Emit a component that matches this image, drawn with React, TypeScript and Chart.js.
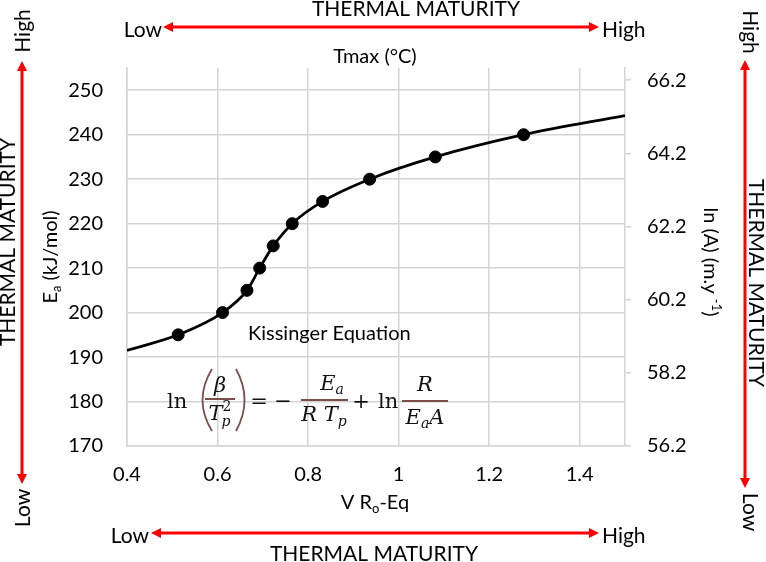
import React, { useEffect, useRef } from "react";
import { Chart, registerables } from "chart.js";

Chart.register(...registerables);

// ---- data ----
const roEq = [0.513, 0.611, 0.665, 0.693, 0.723, 0.765, 0.832, 0.936, 1.081, 1.276];
const eaValues = [195, 200, 205, 210, 215, 220, 225, 230, 235, 240];
// smoothed curve extends beyond the measured points to the plot edges
const curveStart = [0.4, 191.5];
const curveEnd = [1.5, 244.3];

const xTicks = [0.4, 0.6, 0.8, 1.0, 1.2, 1.4];
const xTickLabels = ["0.4", "0.6", "0.8", "1", "1.2", "1.4"];
const eaTicks = [170, 180, 190, 200, 210, 220, 230, 240, 250];
const lnATicks = [56.2, 58.2, 60.2, 62.2, 64.2, 66.2];
const lnATickLabels = ["56.2", "58.2", "60.2", "62.2", "64.2", "66.2"];

const GRID = "#d4d4d4";
const RED = "#ff0000";
const EQC = "#7d4d49";
const SANS = "Lato";
const SERIF = "DejaVu Serif";
const INK = "#000";

function txt(ctx: CanvasRenderingContext2D, s: string, x: number, y: number, font: string, align: CanvasTextAlign = "left", color = INK) {
  ctx.font = font;
  ctx.fillStyle = color;
  ctx.textAlign = align;
  ctx.textBaseline = "alphabetic";
  ctx.fillText(s, x, y);
}

function rotTxt(ctx: CanvasRenderingContext2D, s: string, x: number, y: number, angle: number, font: string, color = INK) {
  ctx.save();
  ctx.translate(x, y);
  ctx.rotate(angle);
  ctx.font = font;
  ctx.fillStyle = color;
  ctx.textAlign = "center";
  ctx.textBaseline = "middle";
  ctx.fillText(s, 0, 0);
  ctx.restore();
}

// rich text pieces: [text, size, dy, italic]
type Piece = [string, number, number, boolean?];
function richWidth(ctx: CanvasRenderingContext2D, pieces: Piece[], fam: string) {
  let w = 0;
  for (const [s, sz, , it] of pieces) {
    ctx.font = `${it ? "italic " : ""}${sz}px ${fam}`;
    w += ctx.measureText(s).width;
  }
  return w;
}
function richDraw(ctx: CanvasRenderingContext2D, pieces: Piece[], fam: string, x: number, y: number, align: "left" | "center", color = INK) {
  let cx = align === "center" ? x - richWidth(ctx, pieces, fam) / 2 : x;
  ctx.fillStyle = color;
  ctx.textAlign = "left";
  ctx.textBaseline = "alphabetic";
  for (const [s, sz, dy, it] of pieces) {
    ctx.font = `${it ? "italic " : ""}${sz}px ${fam}`;
    ctx.fillText(s, cx, y + dy);
    cx += ctx.measureText(s).width;
  }
}

function hArrow(ctx: CanvasRenderingContext2D, x1: number, x2: number, y: number) {
  ctx.strokeStyle = RED;
  ctx.fillStyle = RED;
  ctx.lineWidth = 3;
  ctx.beginPath();
  ctx.moveTo(x1 + 8, y);
  ctx.lineTo(x2 - 8, y);
  ctx.stroke();
  ctx.beginPath();
  ctx.moveTo(x1, y); ctx.lineTo(x1 + 10, y - 5); ctx.lineTo(x1 + 10, y + 5); ctx.closePath();
  ctx.fill();
  ctx.beginPath();
  ctx.moveTo(x2, y); ctx.lineTo(x2 - 10, y - 5); ctx.lineTo(x2 - 10, y + 5); ctx.closePath();
  ctx.fill();
}
function vArrow(ctx: CanvasRenderingContext2D, x: number, y1: number, y2: number) {
  ctx.strokeStyle = RED;
  ctx.fillStyle = RED;
  ctx.lineWidth = 3;
  ctx.beginPath();
  ctx.moveTo(x, y1 + 8);
  ctx.lineTo(x, y2 - 8);
  ctx.stroke();
  ctx.beginPath();
  ctx.moveTo(x, y1); ctx.lineTo(x - 5, y1 + 10); ctx.lineTo(x + 5, y1 + 10); ctx.closePath();
  ctx.fill();
  ctx.beginPath();
  ctx.moveTo(x, y2); ctx.lineTo(x - 5, y2 - 10); ctx.lineTo(x + 5, y2 - 10); ctx.closePath();
  ctx.fill();
}

function paren(ctx: CanvasRenderingContext2D, xTip: number, xMid: number, yTop: number, yBot: number) {
  ctx.strokeStyle = EQC;
  ctx.lineWidth = 1.8;
  ctx.beginPath();
  ctx.moveTo(xTip, yTop);
  ctx.quadraticCurveTo(xMid - (xTip - xMid) * 0.9, (yTop + yBot) / 2, xTip, yBot);
  ctx.stroke();
}
function fracLine(ctx: CanvasRenderingContext2D, x1: number, x2: number, y: number) {
  ctx.strokeStyle = EQC;
  ctx.lineWidth = 2;
  ctx.beginPath();
  ctx.moveTo(x1, y);
  ctx.lineTo(x2, y);
  ctx.stroke();
}

const annotPlugin = {
  id: "annot",
  afterDraw(chart: any) {
    const ctx: CanvasRenderingContext2D = chart.ctx;
    ctx.save();
    const F = `21px ${SANS}`;
    // top
    txt(ctx, "THERMAL MATURITY", 416, 16, F, "center");
    txt(ctx, "Low", 162, 37, F, "right");
    txt(ctx, "High", 602, 37, F, "left");
    hArrow(ctx, 163, 599, 27);
    txt(ctx, "Tmax (°C)", 375, 63, `20px ${SANS}`, "center");
    // bottom
    richDraw(ctx, [["V R", 20, 0], ["o", 13, 4], ["-Eq", 20, 0]], SANS, 375, 509, "center");
    txt(ctx, "Low", 149, 543, F, "right");
    txt(ctx, "High", 602, 543, F, "left");
    hArrow(ctx, 151, 599, 533);
    txt(ctx, "THERMAL MATURITY", 374, 561, F, "center");
    // left column
    rotTxt(ctx, "High", 23, 31, -Math.PI / 2, F);
    rotTxt(ctx, "Low", 23, 508, -Math.PI / 2, F);
    vArrow(ctx, 22, 61, 484);
    rotTxt(ctx, "THERMAL MATURITY", 8, 242, -Math.PI / 2, F);
    // right column
    rotTxt(ctx, "High", 750, 32, Math.PI / 2, F);
    rotTxt(ctx, "Low", 750, 512, Math.PI / 2, F);
    vArrow(ctx, 745, 60, 488);
    rotTxt(ctx, "THERMAL MATURITY", 756, 283, Math.PI / 2, F);
    // axis titles
    ctx.save();
    ctx.translate(57, 257);
    ctx.rotate(-Math.PI / 2);
    richDraw(ctx, [["E", 20, 0], ["a", 13, 4], [" (kJ/mol)", 20, 0]], SANS, 0, 0, "center");
    ctx.restore();
    ctx.save();
    ctx.translate(704, 262);
    ctx.rotate(Math.PI / 2);
    richDraw(ctx, [["ln (A) (m.y ", 20, 0], ["-1", 13, -8], [")", 20, 0]], SANS, 0, 0, "center");
    ctx.restore();

    // Kissinger equation
    txt(ctx, "Kissinger Equation", 248, 340, `20px ${SANS}`, "left");
    const S = 21;
    const s = 14;
    const bc = "#111";
    txt(ctx, "ln", 167, 408, `${S}px ${SERIF}`, "left", bc);
    paren(ctx, 212, 202, 369, 431);
    paren(ctx, 236, 245, 369, 431);
    richDraw(ctx, [["β", S, 0, true]], SERIF, 220, 392, "center", bc);
    fracLine(ctx, 205, 235, 399);
    // T_p^2
    ctx.font = `italic ${S}px ${SERIF}`;
    const tW = ctx.measureText("T").width;
    ctx.font = `italic ${s}px ${SERIF}`;
    const pW = ctx.measureText("p").width;
    const tx = 220 - (tW + pW) / 2;
    txt(ctx, "T", tx, 420, `italic ${S}px ${SERIF}`, "left", bc);
    txt(ctx, "p", tx + tW - 1, 426, `italic ${s}px ${SERIF}`, "left", bc);
    txt(ctx, "2", tx + tW, 411, `${s}px ${SERIF}`, "left", bc);
    txt(ctx, "=", 259, 408, `${S}px ${SERIF}`, "center", bc);
    txt(ctx, "−", 283, 408, `${S}px ${SERIF}`, "center", bc);
    fracLine(ctx, 301, 348, 400);
    richDraw(ctx, [["E", S, 0, true], ["a", s, 4, true]], SERIF, 332, 390, "center", bc);
    richDraw(ctx, [["R T", S, 0, true], ["p", s, 5, true]], SERIF, 324, 421, "center", bc);
    txt(ctx, "+", 361, 408, `${S}px ${SERIF}`, "center", bc);
    txt(ctx, "ln", 378, 408, `${S}px ${SERIF}`, "left", bc);
    fracLine(ctx, 402, 448, 401);
    richDraw(ctx, [["R", S, 0, true]], SERIF, 425, 391, "center", bc);
    richDraw(ctx, [["E", S, 0, true], ["a", s, 4, true], ["A", S, 0, true]], SERIF, 425, 424, "center", bc);
    ctx.restore();
  },
};

export default function App() {
  const ref = useRef<HTMLCanvasElement>(null);
  useEffect(() => {
    const canvas = ref.current;
    if (!canvas) return;
    const curveX = [curveStart[0], ...roEq, curveEnd[0]];
    const curveY = [curveStart[1], ...eaValues, curveEnd[1]];
    const tickFont = { family: SANS, size: 20 };
    const chart = new Chart(canvas, {
      type: "scatter",
      data: {
        datasets: [
          {
            type: "line",
            data: curveX.map((x, i) => ({ x, y: curveY[i] })),
            borderColor: "#000",
            borderWidth: 2.75,
            pointRadius: 0,
            cubicInterpolationMode: "monotone",
            fill: false,
            yAxisID: "y",
            order: 2,
          } as any,
          {
            type: "scatter",
            data: roEq.map((x, i) => ({ x, y: eaValues[i] })),
            backgroundColor: "#000",
            borderColor: "#000",
            pointRadius: 6,
            yAxisID: "y",
            order: 1,
          } as any,
        ],
      },
      options: {
        responsive: false,
        animation: false,
        devicePixelRatio: 1,
        layout: { padding: { top: 68, left: 0, right: 0, bottom: 0 } },
        plugins: { legend: { display: false }, tooltip: { enabled: false } },
        scales: {
          x: {
            type: "linear",
            position: "bottom",
            min: 0.4,
            max: 1.5,
            afterBuildTicks: (s: any) => { s.ticks = xTicks.map((v) => ({ value: v })); },
            afterFit: (s: any) => { s.height = 116; },
            grid: { color: GRID, lineWidth: 1.5, drawTicks: false },
            border: { color: GRID, width: 1.5 },
            ticks: { padding: 17, font: tickFont, color: INK, maxRotation: 0, callback: (_v: any, i: number) => xTickLabels[i] },
          },
          y: {
            position: "left",
            min: 170,
            max: 255,
            afterBuildTicks: (s: any) => { s.ticks = eaTicks.map((v) => ({ value: v })); },
            afterFit: (s: any) => { s.width = 127; },
            grid: { color: GRID, lineWidth: 1.5, drawTicks: false },
            border: { color: GRID, width: 1.5 },
            ticks: { padding: 24, font: tickFont, color: INK, callback: (_v: any, i: number) => String(eaTicks[i]) },
          },
          y1: {
            position: "right",
            min: 56.2,
            max: 66.53,
            afterBuildTicks: (s: any) => { s.ticks = lnATicks.map((v) => ({ value: v })); },
            afterFit: (s: any) => { s.width = 141; },
            grid: { drawOnChartArea: false, drawTicks: true, tickLength: 6, color: GRID, lineWidth: 1.5 },
            border: { color: GRID, width: 1.5 },
            ticks: { padding: 16, font: tickFont, color: INK, callback: (_v: any, i: number) => lnATickLabels[i] },
          },
        },
      } as any,
      plugins: [annotPlugin],
    });
    return () => chart.destroy();
  }, []);
  return (
    <div style={{ position: "absolute", left: 0, top: 0, width: 766, height: 562, background: "#fff" }}>
      <canvas ref={ref} width={766} height={562} style={{ display: "block" }} />
    </div>
  );
}
